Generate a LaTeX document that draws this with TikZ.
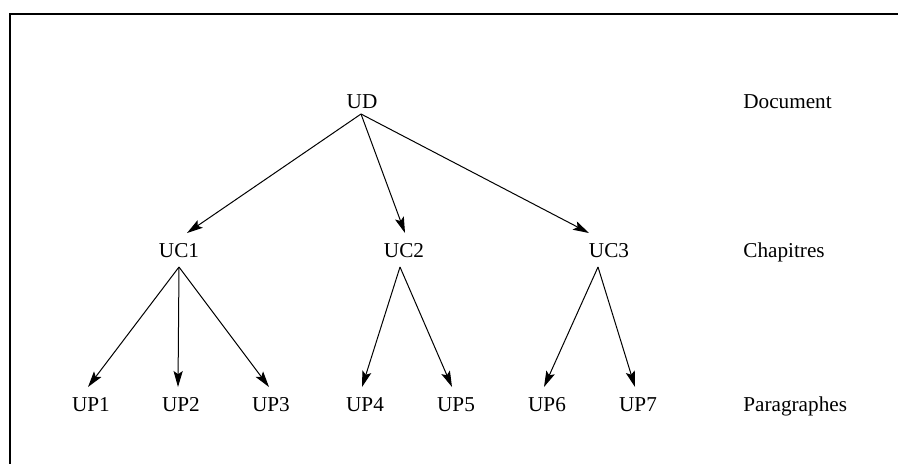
\documentclass[tikz,border=0pt]{standalone}
\usepackage{fontspec}
\setmainfont{Liberation Serif}
\usetikzlibrary{arrows.meta}
\tikzset{
  lbl/.style={anchor=base, inner sep=0pt, font=\fontsize{10.6}{12}\selectfont},
  lvl/.style={anchor=base west, inner sep=0pt, font=\fontsize{10.6}{12}\selectfont},
  arr/.style={line width=0.5pt, -{Stealth[length=8pt,width=4.6pt,inset=1.6pt]}},
  frame/.style={line width=0.9pt, line cap=rect}
}
\begin{document}
\begin{tikzpicture}[x=0.5pt,y=-0.5pt]
\useasboundingbox (0,0) rectangle (898,463);
% frame (top and left only)
\coordinate (fbl) at (10,463);
\coordinate (ftl) at (10,14);
\coordinate (ftr) at (898,14);
\draw[frame] (fbl) -- (ftl) -- (ftr);
% nodes
\node[lbl] (UD) at (362,108) {UD};
\node[lbl] (UC1) at (179,257) {UC1};
\node[lbl] (UC2) at (404,257) {UC2};
\node[lbl] (UC3) at (609,257) {UC3};
\node[lbl] (UP1) at (91,411) {UP1};
\node[lbl] (UP2) at (181,411) {UP2};
\node[lbl] (UP3) at (271,411) {UP3};
\node[lbl] (UP4) at (365,411) {UP4};
\node[lbl] (UP5) at (456,411) {UP5};
\node[lbl] (UP6) at (547,411) {UP6};
\node[lbl] (UP7) at (638,411) {UP7};
\node[lvl] (Ldoc) at (743,108) {Document};
\node[lvl] (Lch) at (743,257) {Chapitres};
\node[lvl] (Lpar) at (743,411) {Paragraphes};
% connector ends
\coordinate (UDo) at (361,114);
\coordinate (UC1i) at (187,233);
\coordinate (UC2i) at (405,233);
\coordinate (UC3i) at (589,233);
\coordinate (UC1o) at (179,267);
\coordinate (UC2o) at (400,267);
\coordinate (UC3o) at (598,267);
\coordinate (UP1i) at (88,387);
\coordinate (UP2i) at (178,387);
\coordinate (UP3i) at (269,387);
\coordinate (UP4i) at (362,387);
\coordinate (UP5i) at (452,387);
\coordinate (UP6i) at (544,387);
\coordinate (UP7i) at (635,387);
% connectors
\draw[arr] (UDo) -- (UC1i);
\draw[arr] (UDo) -- (UC2i);
\draw[arr] (UDo) -- (UC3i);
\draw[arr] (UC1o) -- (UP1i);
\draw[arr] (UC1o) -- (UP2i);
\draw[arr] (UC1o) -- (UP3i);
\draw[arr] (UC2o) -- (UP4i);
\draw[arr] (UC2o) -- (UP5i);
\draw[arr] (UC3o) -- (UP6i);
\draw[arr] (UC3o) -- (UP7i);
\end{tikzpicture}
\end{document}
